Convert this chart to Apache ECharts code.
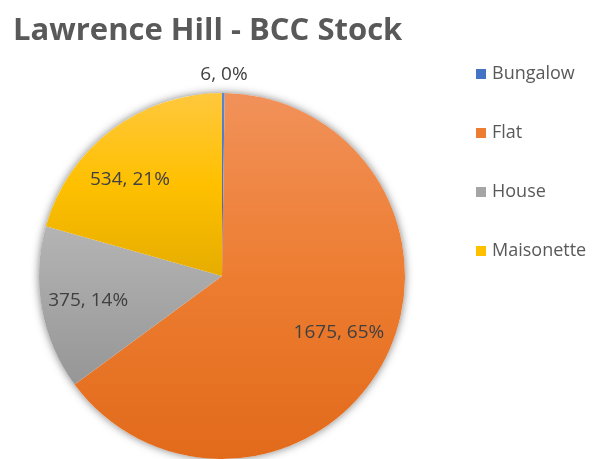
<!DOCTYPE html>
<html>
<head>
<meta charset="utf-8">
<script src="https://cdn.jsdelivr.net/npm/echarts@6/dist/echarts.min.js"></script>
<style>
  html, body { margin: 0; padding: 0; background: #fff; }
  #chart { width: 592px; height: 459px; }
</style>
</head>
<body>
<div id="chart"></div>
<script>
const categories = ['Bungalow', 'Flat', 'House', 'Maisonette']
const stock = [6, 1675, 375, 534]

// top / middle / bottom tints, like the office preset gradient
const baseColors = ['#4472c4', '#ed7d31', '#a5a5a5', '#ffc000']
const lightColors = ['#5b86d2', '#f1915a', '#b4b4b4', '#ffc83d']
const darkColors = ['#3a64b0', '#e26a1b', '#969696', '#e6ad00']

// small nudges so the labels sit where the original put them
const labelOffsets = [[-28, -18], [-4, -6], [0, 0], [-10, 12]]

const center = [222, 276]
const radius = 183

function grad (i) {
  return new echarts.graphic.LinearGradient(0, 0, 0, 1, [
    { offset: 0, color: lightColors[i] },
    { offset: 0.5, color: baseColors[i] },
    { offset: 1, color: darkColors[i] }
  ])
}

const fontFamily = '"Open Sans", sans-serif'

let mainData = categories.map((name, i) => {
  let item = { name: name, value: stock[i], itemStyle: { color: grad(i) } }
  if (i === 0) {
    item.label = { show: true, position: 'outside', offset: labelOffsets[0] }
    item.labelLine = { show: false, length: 0, length2: 0 }
  }
  return item
})

let labelData = categories.map((name, i) => {
  return { name: name, value: stock[i], label: { show: i !== 0, offset: labelOffsets[i] } }
})

let chart = echarts.init(document.getElementById('chart'))
let option = {
  animation: false,
  title: {
    text: 'Lawrence Hill - BCC Stock',
    left: 8,
    top: 11,
    textStyle: {
      fontFamily: fontFamily,
      fontWeight: 'bold',
      fontSize: 31,
      color: '#595959'
    }
  },
  legend: {
    orient: 'vertical',
    left: 471,
    top: 60,
    itemWidth: 10,
    itemHeight: 10,
    itemGap: 41,
    icon: 'rect',
    textStyle: {
      fontFamily: fontFamily,
      fontSize: 18,
      color: '#595959',
      padding: [0, 0, 0, 1]
    },
    data: categories.map((name, i) => ({ name: name, itemStyle: { color: baseColors[i] } }))
  },
  series: [
    {
      // soft shadow behind the whole pie
      type: 'pie',
      silent: true,
      center: center,
      radius: radius,
      label: { show: false },
      labelLine: { show: false },
      itemStyle: {
        color: '#ffffff',
        shadowBlur: 8,
        shadowColor: 'rgba(0, 0, 0, 0.5)'
      },
      data: [{ name: 'shadow', value: 1 }]
    },
    {
      name: 'Stock',
      type: 'pie',
      center: center,
      radius: radius,
      startAngle: 90,
      clockwise: true,
      avoidLabelOverlap: false,
      percentPrecision: 0,
      label: {
        show: false,
        formatter: '{c}, {d}%',
        fontFamily: fontFamily,
        fontSize: 19,
        color: '#404040'
      },
      labelLine: { show: false },
      itemStyle: { borderWidth: 0 },
      data: mainData
    },
    {
      // transparent copy, only carries the inner labels a bit further out
      type: 'pie',
      silent: true,
      center: center,
      radius: [0, 266],
      startAngle: 90,
      clockwise: true,
      avoidLabelOverlap: false,
      percentPrecision: 0,
      itemStyle: { color: 'rgba(0,0,0,0)' },
      label: {
        position: 'inside',
        formatter: '{c}, {d}%',
        fontFamily: fontFamily,
        fontSize: 19,
        color: '#404040'
      },
      labelLine: { show: false },
      data: labelData
    }
  ]
}
chart.setOption(option)
</script>
</body>
</html>
